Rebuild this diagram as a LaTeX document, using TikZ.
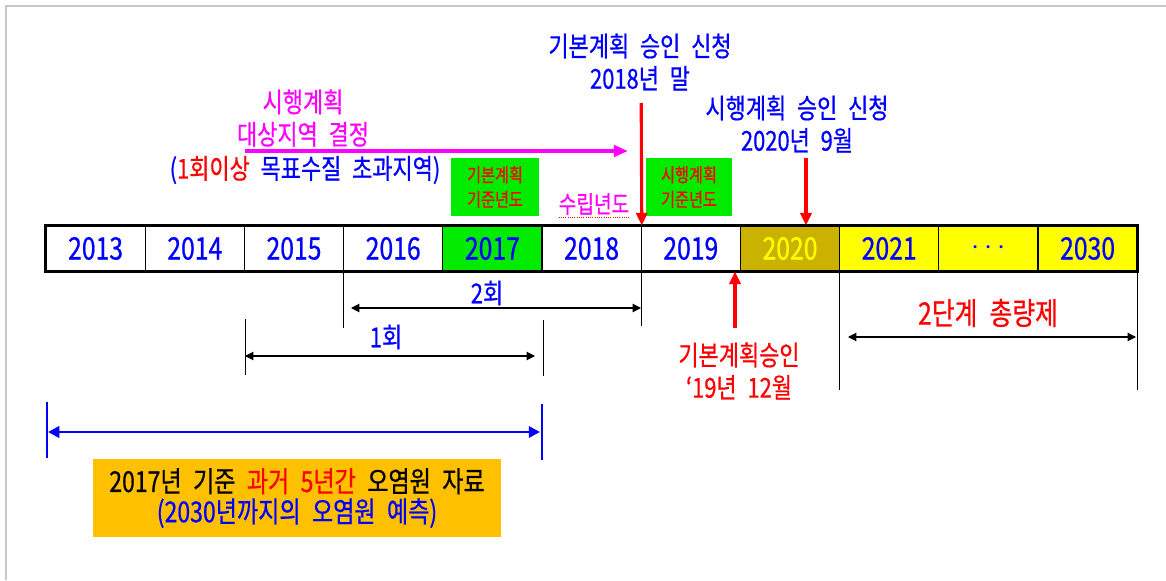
\documentclass[tikz,border=0pt]{standalone}
\usepackage{fontspec}
\setmainfont{Noto Sans CJK KR}[FakeStretch=0.8,WordSpace=2.2,FakeBold=0.6]
\usetikzlibrary{arrows.meta}
\definecolor{kblue}{RGB}{0,0,255}
\definecolor{kred}{RGB}{255,0,0}
\definecolor{kmag}{RGB}{255,0,255}
\definecolor{kgreen}{RGB}{0,235,0}
\definecolor{kolive}{RGB}{204,178,0}
\definecolor{kyellow}{RGB}{255,255,0}
\definecolor{korange}{RGB}{255,192,0}
\newcommand{\lblfont}{\fontsize{19.5}{23}\selectfont}
\newcommand{\yrfont}{\fontsize{22}{26}\selectfont}
\newcommand{\boxfont}{\fontsize{13.5}{17.5}\selectfont}

\begin{document}
\begin{tikzpicture}[x=0.025cm,y=-0.025cm,every node/.style={inner sep=0pt,font=\lblfont,align=center},
  yr/.style={draw=black,line width=0.8pt,minimum width=2.48cm,minimum height=1.125cm,text=kblue,font=\yrfont},
  gbox/.style={fill=kgreen,text=kred,minimum width=2.2cm,minimum height=1.45cm,font=\boxfont},
  thin/.style={black,line width=0.6pt},
  darrow/.style={black,line width=0.8pt,{Triangle[length=6pt,width=6pt]}-{Triangle[length=6pt,width=6pt]}},
  rarrow/.style={kred,line width=2.2pt,-{Triangle[length=9pt,width=8pt]}}]
\useasboundingbox (0,0) rectangle (1166,580);
\draw[black!22,line width=1pt] (6,580) -- (6,6) -- (1166,6);
% time line
\node[yr] (c2013) at (95.6,248.5) {2013};\node[yr] (c2014) at (194.8,248.5) {2014};
\node[yr] (c2015) at (294.0,248.5) {2015};\node[yr] (c2016) at (393.2,248.5) {2016};
\node[yr,fill=kgreen] (c2017) at (492.4,248.5) {2017};\node[yr] (c2018) at (591.6,248.5) {2018};
\node[yr] (c2019) at (690.8,248.5) {2019};\node[yr,fill=kolive,text=kyellow] (c2020) at (790.0,248.5) {2020};
\node[yr,fill=kyellow] (c2021) at (889.2,248.5) {2021};\node[yr,fill=kyellow] (cdots) at (988.4,248.5) {$\cdots$};
\node[yr,fill=kyellow] (c2030) at (1087.6,248.5) {2030};
\draw[line width=2.2pt] (c2013.north west) rectangle (c2030.south east);
% above
\node[text=kmag] (target) at (303,118) {시행계획\\대상지역 결정};
\node[text=kblue] (crit) at (305,170) {(\textcolor{kred}{1회이상} 목표수질 초과지역)};
\coordinate (m0) at (245,151);\coordinate (m1) at (628,151);
\draw[kmag,line width=2.4pt,-{Triangle[length=10pt,width=8pt]}] (m0) -- (m1);
\node[gbox] (base1) at (495,187) {기본계획\\기준년도};
\node[gbox,minimum width=2.15cm] (base2) at (689,187) {시행계획\\기준년도};
\node[text=kmag,font=\fontsize{17}{20}\selectfont] (est) at (594,204) {수립년도};
\draw[kred,densely dotted,line width=0.6pt] ([yshift=-2pt]est.south west) -- ([yshift=-2pt]est.south east);
\node[text=kblue] (apply1) at (640,62) {기본계획 승인 신청\\2018년 말};
\node[text=kblue] (apply2) at (797,124) {시행계획 승인 신청\\2020년 9월};
\coordinate (r1) at (641.2,103);\draw[rarrow] (r1) -- (c2018.north east);
\coordinate (r2) at (806,158);\draw[rarrow] (r2) -- (r2 |- c2020.north);
% below
\draw[thin] (c2016.south west) -- ++(0,56);\draw[thin] (c2018.south east) -- ++(0,54);
\coordinate (t2a) at (351,308);\coordinate (t2b) at (641,308);
\draw[darrow] (t2a) -- (t2b);
\node[text=kblue] (two) at (487,293) {2회};
\coordinate (k1a) at (245,319);\coordinate (k1b) at (543,320);
\draw[thin] (k1a) -- ++(0,56);\draw[thin] (k1b) -- ++(0,56);
\coordinate (t1a) at (245,356);\coordinate (t1b) at (535,356);
\draw[darrow] (t1a) -- (t1b);
\node[text=kblue] (one) at (386,337) {1회};
\coordinate (b0) at (47,402);\coordinate (b1) at (542,404);
\draw[kblue,line width=2pt] (b0) -- ++(0,56);\draw[kblue,line width=2pt] (b1) -- ++(0,56);
\coordinate (ba) at (48,432);\coordinate (bb) at (540,432);
\draw[kblue,line width=2pt,{Triangle[length=8pt,width=8pt]}-{Triangle[length=8pt,width=8pt]}] (ba) -- (bb);
\node[fill=korange,minimum width=10.2cm,minimum height=1.95cm,font=\fontsize{20.5}{21.5}\selectfont] (data) at (297,498)
  {2017년 기준 \textcolor{kred}{과거 5년간} 오염원 자료\\\textcolor{kblue}{(2030년까지의 오염원 예측)}};
\coordinate (r3) at (735,328);\draw[rarrow] (r3) -- (r3 |- c2019.south);
\node[text=kred] (approve) at (739,371) {기본계획승인\\‘19년 12월};
\draw[thin] (c2021.south west) -- ++(0,118);\draw[thin] (c2030.south east) -- ++(0,118);
\coordinate (s2a) at (848,337);\coordinate (s2b) at (1136,337);
\draw[darrow] (s2a) -- (s2b);
\node[text=kred,font=\fontsize{22}{26}\selectfont] (stage) at (988,313) {2단계 총량제};
\end{tikzpicture}
\end{document}
